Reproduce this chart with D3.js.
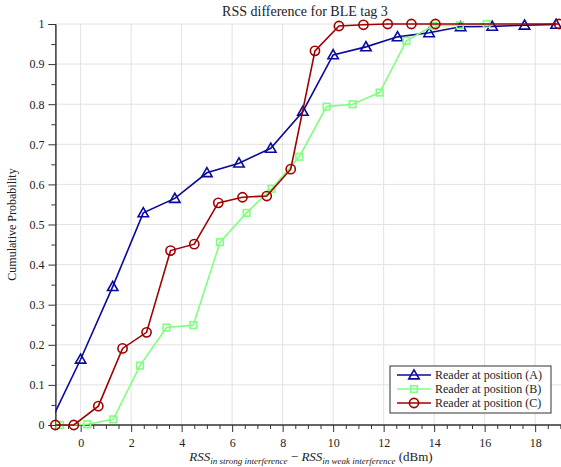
<!DOCTYPE html>
<html>
<head>
<meta charset="utf-8">
<script src="https://cdn.jsdelivr.net/npm/d3@7"></script>
<style>
  html, body { margin: 0; padding: 0; background: #fff; }
  svg, svg text { font-family: "Liberation Serif", "Times New Roman", "DejaVu Serif", serif; }
</style>
</head>
<body>
<svg id="chart" width="561" height="467"></svg>
<script>
// Reader at position (A)
const xA = [-1.25, 0, 1.27, 2.48, 3.73, 5.0, 6.27, 7.53, 8.8, 10.0, 11.3, 12.55, 13.8, 15.05, 16.3, 17.58, 18.83];
const yA = [0, 0.164, 0.345, 0.529, 0.565, 0.629, 0.653, 0.69, 0.782, 0.923, 0.943, 0.968, 0.978, 0.993, 0.994, 0.997, 0.999];
// Reader at position (B)
const xB = [-0.82, 0.26, 1.29, 2.35, 3.4, 4.46, 5.52, 6.57, 7.56, 8.66, 9.74, 10.77, 11.84, 12.9, 13.97, 15.02, 16.08];
const yB = [0, 0.002, 0.014, 0.148, 0.243, 0.249, 0.456, 0.529, 0.589, 0.669, 0.794, 0.8, 0.829, 0.958, 0.996, 0.997, 1.0];
// Reader at position (C)
const xC = [-1.0, -0.27, 0.7, 1.66, 2.61, 3.56, 4.5, 5.45, 6.41, 7.37, 8.32, 9.28, 10.23, 11.2, 12.16, 13.1, 14.05, 18.95];
const yC = [0, 0, 0.047, 0.191, 0.231, 0.435, 0.451, 0.554, 0.568, 0.571, 0.638, 0.933, 0.995, 0.998, 1.0, 1.0, 1.0, 1.0];

const seriesNames = ["Reader at position (A)", "Reader at position (B)", "Reader at position (C)"];
const xTicks = [0, 2, 4, 6, 8, 10, 12, 14, 16, 18];
const yTicks = [0, 0.1, 0.2, 0.3, 0.4, 0.5, 0.6, 0.7, 0.8, 0.9, 1];
const xDomain = [-1, 19];
const yDomain = [0, 1];

const series = [
  { name: seriesNames[0], xs: xA, ys: yA, color: "#0a0a9c", marker: "triangle" },
  { name: seriesNames[1], xs: xB, ys: yB, color: "#80ff80", marker: "square" },
  { name: seriesNames[2], xs: xC, ys: yC, color: "#a00000", marker: "circle" }
];

const FONT = "'Liberation Serif', 'Times New Roman', 'DejaVu Serif', serif";
const svg = d3.select("#chart");
const pLeft = 55.4, pRight = 560.4, pTop = 24, pBottom = 425;

const x = d3.scaleLinear().domain(xDomain).range([pLeft, pRight]);
const y = d3.scaleLinear().domain(yDomain).range([pBottom, pTop]);

// grid
const grid = svg.append("g");
grid.selectAll("line.vg").data(xTicks).join("line")
  .attr("x1", d => x(d)).attr("x2", d => x(d))
  .attr("y1", pTop).attr("y2", pBottom)
  .attr("stroke", "#e2e2e2").attr("stroke-width", 1);
grid.selectAll("line.hg").data(yTicks.filter(d => d > 0)).join("line")
  .attr("x1", pLeft).attr("x2", 561)
  .attr("y1", d => y(d)).attr("y2", d => y(d))
  .attr("stroke", "#e2e2e2").attr("stroke-width", 1);

// axes
const xMinor = d3.range(-1, 19.01, 0.5).filter(v => !xTicks.includes(v));
const yMinor = d3.range(0.05, 1, 0.1).map(v => +v.toFixed(2));

const xAxis = svg.append("g").attr("transform", `translate(0,${pBottom})`);
xAxis.call(d3.axisBottom(x).tickValues(xMinor).tickSize(4).tickFormat(""));
xAxis.append("g").call(d3.axisBottom(x).tickValues(xTicks).tickSize(7).tickPadding(6).tickFormat(d3.format("d")));
xAxis.selectAll(".domain").attr("stroke", "#333").attr("d", `M${pLeft},0H561`);
xAxis.selectAll(".tick line").attr("stroke", "#333");
xAxis.attr("font-family", FONT);
xAxis.selectAll("g").attr("font-family", FONT);
xAxis.selectAll("text").attr("font-size", 12).attr("fill", "#222").style("font-family", FONT);

const yAxis = svg.append("g").attr("transform", `translate(${pLeft},0)`);
yAxis.call(d3.axisLeft(y).tickValues(yMinor).tickSize(4).tickFormat(""));
yAxis.append("g").call(d3.axisLeft(y).tickValues(yTicks).tickSize(7).tickPadding(4)
  .tickFormat(d => d === 0 || d === 1 ? d3.format("d")(d) : d3.format(".1f")(d)));
yAxis.selectAll(".domain").attr("stroke", "#333");
yAxis.selectAll(".tick line").attr("stroke", "#333");
yAxis.attr("font-family", FONT);
yAxis.selectAll("g").attr("font-family", FONT);
yAxis.selectAll("text").attr("font-size", 12).attr("fill", "#222").style("font-family", FONT);

// clip region for lines
svg.append("clipPath").attr("id", "plotClip")
  .append("rect").attr("x", pLeft).attr("y", 0).attr("width", 561 - pLeft).attr("height", 467);

const lineGen = d3.line().x(d => x(d[0])).y(d => y(d[1]));

function drawMarker(g, type, cx, cy, color) {
  if (type === "triangle") {
    const s = 5.2;
    g.append("path")
      .attr("d", `M${cx},${cy - s}L${cx + s},${cy + s * 0.75}L${cx - s},${cy + s * 0.75}Z`)
      .attr("fill", "none").attr("stroke", color).attr("stroke-width", 1.6);
  } else if (type === "square") {
    const s = 3.3;
    g.append("rect").attr("x", cx - s).attr("y", cy - s).attr("width", 2 * s).attr("height", 2 * s)
      .attr("fill", "none").attr("stroke", color).attr("stroke-width", 1.6);
  } else {
    g.append("circle").attr("cx", cx).attr("cy", cy).attr("r", 4.6)
      .attr("fill", "none").attr("stroke", color).attr("stroke-width", 1.6);
  }
}

series.forEach(s => {
  const pts = s.xs.map((v, i) => [v, s.ys[i]]);
  const g = svg.append("g");
  g.append("path").datum(pts).attr("d", lineGen)
    .attr("clip-path", "url(#plotClip)")
    .attr("fill", "none").attr("stroke", s.color).attr("stroke-width", 1.6);
  pts.filter(p => p[0] >= xDomain[0] - 0.05 && p[0] <= xDomain[1])
    .forEach(p => drawMarker(g, s.marker, x(p[0]), y(p[1]), s.color));
});

// title
svg.append("text").attr("x", 305).attr("y", 16).attr("text-anchor", "middle")
  .style("font-family", FONT)
  .attr("font-size", 14).attr("fill", "#222").text("RSS difference for BLE tag 3");

// y label
svg.append("text").attr("transform", `translate(16,${(pTop + pBottom) / 2}) rotate(-90)`)
  .style("font-family", FONT)
  .attr("text-anchor", "middle").attr("font-size", 12).attr("fill", "#222")
  .text("Cumulative Probability");

// x label with subscripts
const xl = svg.append("text").attr("x", 311).attr("y", 461).attr("text-anchor", "middle")
  .style("font-family", FONT)
  .attr("font-size", 13).attr("fill", "#222");
xl.append("tspan").attr("font-style", "italic").text("RSS");
xl.append("tspan").attr("font-style", "italic").attr("font-size", 9).attr("dy", 3).text("in strong interference");
xl.append("tspan").attr("dy", -3).text(" − ");
xl.append("tspan").attr("font-style", "italic").text("RSS");
xl.append("tspan").attr("font-style", "italic").attr("font-size", 9).attr("dy", 3).text("in weak interference");
xl.append("tspan").attr("dy", -3).text(" (dBm)");

// legend
const lg = svg.append("g");
lg.append("rect").attr("x", 390).attr("y", 366).attr("width", 161).attr("height", 47)
  .attr("fill", "#fff").attr("stroke", "#333").attr("stroke-width", 1);
series.forEach((s, i) => {
  const ly = 375 + i * 14;
  lg.append("line").attr("x1", 397).attr("x2", 431).attr("y1", ly).attr("y2", ly)
    .attr("stroke", s.color).attr("stroke-width", 1.6);
  drawMarker(lg, s.marker, 414, ly, s.color);
  lg.append("text").attr("x", 435).attr("y", ly + 4).attr("font-size", 12).attr("fill", "#222")
    .style("font-family", FONT)
    .text(s.name);
});
</script>
</body>
</html>
